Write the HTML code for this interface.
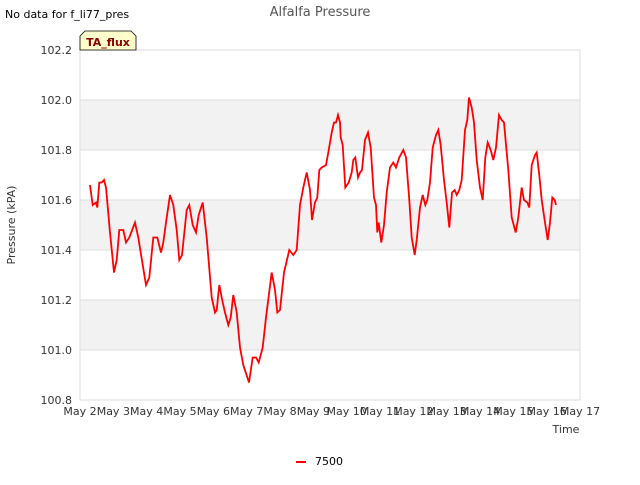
<!DOCTYPE html>
<html><head><meta charset="utf-8"><style>
body{margin:0;background:#fff;font-family:"Liberation Sans","DejaVu Sans",sans-serif}
svg text{font-family:"DejaVu Sans","Liberation Sans",sans-serif}
</style></head><body>
<svg id="chart" width="640" height="480">
<text x="5" y="18" font-size="11" fill="#000">No data for f_li77_pres</text>
<text x="320" y="16" font-size="13" fill="#555" text-anchor="middle">Alfalfa Pressure</text>
<g id="bands"></g>
<rect x="80" y="50" width="500" height="350" fill="none" stroke="#ddd"/>
<g id="grid"></g><g id="ticks"></g>
<path id="line" fill="none" stroke="#ff0000" stroke-width="1.8"/>
<g>
<path d="M80,50 L80,36 L85,31 L131,31 L136,36 L136,50 Z" fill="#ffffcc" stroke="#000" stroke-width="0.8"/>
<text x="108" y="46" font-size="11" font-weight="bold" fill="#8b0000" text-anchor="middle">TA_flux</text></g>
<text x="15" y="225" font-size="11" fill="#333" text-anchor="middle" transform="rotate(-90 15 225)">Pressure (kPA)</text>
<text x="566" y="433" font-size="11" fill="#333" text-anchor="middle">Time</text>
<line x1="296" y1="462" x2="306" y2="462" stroke="#ff0000" stroke-width="2"/>
<text x="315" y="465" font-size="11" fill="#000">7500</text>
</svg>
<script>
const xTickLabels=["May 2","May 3","May 4","May 5","May 6","May 7","May 8","May 9","May 10","May 11","May 12","May 13","May 14","May 15","May 16","May 17"];
const yTicks=[100.8,101.0,101.2,101.4,101.6,101.8,102.0,102.2];
const days=[2.30,2.38,2.48,2.52,2.58,2.65,2.72,2.78,2.90,3.02,3.10,3.18,3.30,3.38,3.48,3.65,3.75,3.82,3.98,4.08,4.20,4.32,4.43,4.50,4.58,4.70,4.80,4.90,4.98,5.06,5.20,5.28,5.38,5.48,5.56,5.68,5.80,5.95,6.05,6.10,6.18,6.28,6.35,6.45,6.52,6.60,6.70,6.80,6.90,7.07,7.18,7.28,7.36,7.48,7.58,7.75,7.85,7.92,8.00,8.12,8.28,8.40,8.50,8.60,8.70,8.80,8.90,8.96,9.05,9.12,9.18,9.25,9.38,9.45,9.55,9.62,9.68,9.74,9.80,9.82,9.88,9.96,10.06,10.15,10.20,10.26,10.34,10.40,10.46,10.55,10.64,10.72,10.82,10.88,10.92,10.96,11.04,11.12,11.20,11.30,11.40,11.48,11.58,11.70,11.78,11.88,11.95,12.04,12.10,12.20,12.28,12.36,12.42,12.50,12.58,12.68,12.75,12.82,12.92,13.00,13.08,13.16,13.24,13.30,13.38,13.45,13.55,13.62,13.67,13.75,13.82,13.90,14.00,14.08,14.16,14.23,14.32,14.40,14.48,14.57,14.65,14.72,14.85,14.95,15.07,15.15,15.25,15.32,15.42,15.48,15.55,15.65,15.70,15.78,15.85,15.95,16.03,16.10,16.17,16.24,16.28];
const pressure=[101.66,101.58,101.59,101.57,101.67,101.67,101.68,101.65,101.47,101.31,101.36,101.48,101.48,101.43,101.45,101.51,101.45,101.39,101.26,101.29,101.45,101.45,101.39,101.43,101.51,101.62,101.58,101.48,101.36,101.38,101.56,101.58,101.50,101.47,101.54,101.59,101.45,101.21,101.15,101.16,101.26,101.19,101.15,101.10,101.13,101.22,101.15,101.01,100.94,100.87,100.97,100.97,100.95,101.01,101.13,101.31,101.24,101.15,101.16,101.31,101.40,101.38,101.40,101.58,101.65,101.71,101.64,101.52,101.59,101.61,101.72,101.73,101.74,101.79,101.87,101.91,101.91,101.94,101.91,101.85,101.82,101.65,101.67,101.71,101.76,101.77,101.69,101.71,101.72,101.84,101.87,101.81,101.61,101.58,101.47,101.51,101.43,101.50,101.63,101.73,101.75,101.73,101.77,101.80,101.77,101.60,101.45,101.38,101.44,101.57,101.62,101.58,101.60,101.67,101.81,101.86,101.88,101.82,101.68,101.59,101.49,101.63,101.64,101.62,101.64,101.68,101.88,101.92,102.01,101.97,101.91,101.76,101.65,101.60,101.77,101.83,101.80,101.76,101.81,101.94,101.92,101.91,101.72,101.53,101.47,101.53,101.65,101.60,101.59,101.57,101.74,101.78,101.79,101.70,101.60,101.51,101.44,101.51,101.61,101.60,101.58];
const NS="http://www.w3.org/2000/svg";
const xS=d=>80+(d-2)*500/15, yS=v=>50+(102.2-v)*250;
const bands=document.getElementById('bands'),grid=document.getElementById('grid'),ticks=document.getElementById('ticks');
for(let i=0;i<yTicks.length-1;i++){
  if(i%2===1){const r=document.createElementNS(NS,'rect');
  
  
  r.setAttribute('x',80);r.setAttribute('width',500);r.setAttribute('y',yS(yTicks[i+1]));r.setAttribute('height',yS(yTicks[i])-yS(yTicks[i+1]));r.setAttribute('fill','#f2f2f2');bands.appendChild(r);}
}
yTicks.forEach(v=>{const y=yS(v);
  const l=document.createElementNS(NS,'line');
  
  
  l.setAttribute('x1',80);l.setAttribute('x2',580);l.setAttribute('y1',y);l.setAttribute('y2',y);l.setAttribute('stroke','#ddd');grid.appendChild(l);
  const t=document.createElementNS(NS,'text');
  
  
  t.setAttribute('x',72);t.setAttribute('y',y+4);t.setAttribute('text-anchor','end');t.setAttribute('font-size','11');t.setAttribute('fill','#333');t.textContent=v.toFixed(1);ticks.appendChild(t);});
xTickLabels.forEach((s,i)=>{const x=xS(2+i);
  const t=document.createElementNS(NS,'text');
  
  
  t.setAttribute('x',x);t.setAttribute('y',415);t.setAttribute('text-anchor','middle');t.setAttribute('font-size','11');t.setAttribute('fill','#333');t.textContent=s;ticks.appendChild(t);});
document.getElementById('line').setAttribute('d',days.map((d,i)=>(i?'L':'M')+xS(d).toFixed(1)+','+yS(pressure[i]).toFixed(1)).join(''));
</script>
</body></html>
